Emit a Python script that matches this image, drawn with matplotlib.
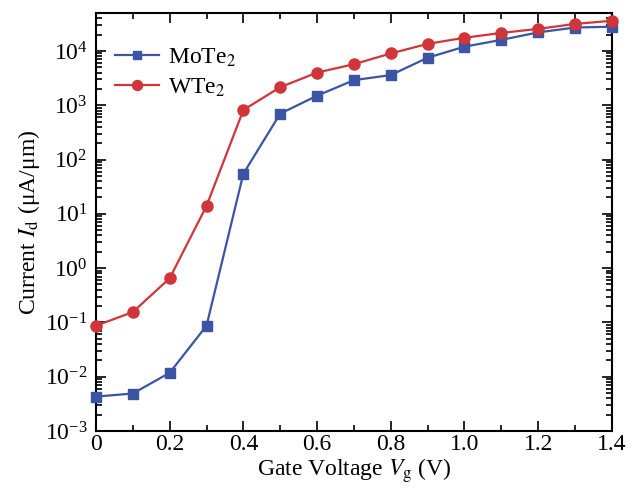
import matplotlib
matplotlib.use("Agg")
import matplotlib.pyplot as plt
from matplotlib.ticker import LogLocator, MultipleLocator, NullFormatter

plt.rcParams['font.family'] = ['Liberation Serif', 'DejaVu Serif']
plt.rcParams['mathtext.fontset'] = 'stix'

vg = [0.0, 0.1, 0.2, 0.3, 0.4, 0.5, 0.6, 0.7, 0.8, 0.9, 1.0, 1.1, 1.2, 1.3, 1.4]
mote2 = [0.0043, 0.0049, 0.0118, 0.087, 55, 700, 1500, 2900, 3600, 7500,
         12000, 16000, 22000, 27000, 28000]
wte2 = [0.087, 0.155, 0.65, 14, 820, 2150, 4000, 5700, 9000, 13500,
        17500, 21500, 25500, 31500, 36000]
xticks = [0, 0.2, 0.4, 0.6, 0.8, 1.0, 1.2, 1.4]
xticklabels = ['0', '0.2', '0.4', '0.6', '0.8', '1.0', '1.2', '1.4']

blue = '#3b54a3'
red = '#d0353a'

fig = plt.figure(figsize=(6.4, 4.93), dpi=100)
ax = fig.add_axes([0.15, 0.1258, 0.806, 0.8478])

ax.plot(vg, mote2, '-s', color=blue, lw=1.6, ms=7, label='MoTe$_2$', clip_on=False, zorder=3)
ax.plot(vg, wte2, '-o', color=red, lw=1.6, ms=8, label='WTe$_2$', clip_on=False, zorder=3)

ax.set_yscale('log')
ax.set_xlim(0, 1.4)
ax.set_ylim(1e-3, 5e4)
ax.set_xticks(xticks)
ax.set_xticklabels(xticklabels)
ax.xaxis.set_minor_locator(MultipleLocator(0.1))
ax.yaxis.set_major_locator(LogLocator(base=10, numticks=20))
ax.yaxis.set_minor_locator(LogLocator(base=10, subs=range(2, 10), numticks=20))
ax.yaxis.set_minor_formatter(NullFormatter())

ax.tick_params(which='both', direction='in', top=True, right=True, labelsize=17, width=1.2)
ax.tick_params(which='major', length=7)
ax.tick_params(which='minor', length=4)
ax.tick_params(axis='x', which='major', pad=2)
ax.tick_params(axis='y', which='major', pad=6)
for s in ax.spines.values():
    s.set_linewidth(1.5)

ax.set_xlabel('Gate Voltage $V_\\mathrm{g}$ (V)', fontsize=17, labelpad=1)
ax.set_ylabel('Current $I_\\mathrm{d}$ (μA/μm)', fontsize=17, labelpad=2)

leg = ax.legend(loc='upper left', frameon=False, fontsize=17, handlelength=1.85,
                handletextpad=0.4, bbox_to_anchor=(0.037, 0.92), borderaxespad=0,
                borderpad=0, labelspacing=0.32, markerscale=0.9)

fig.savefig('out.png', dpi=100)
